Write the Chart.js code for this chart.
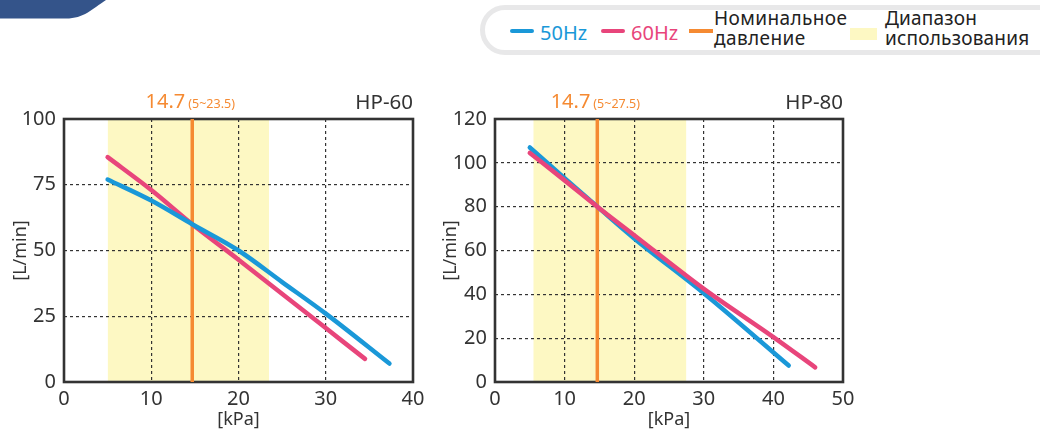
<!DOCTYPE html>
<html>
<head>
<meta charset="utf-8">
<script src="https://cdn.jsdelivr.net/npm/chart.js@4/dist/chart.umd.min.js"></script>
<style>
  html, body { margin:0; padding:0; background:#fff; }
  body { width:1040px; height:432px; position:relative; overflow:hidden; font-family:"Noto Sans", sans-serif; }
  canvas { position:absolute; top:0; }
  #c1 { left:0; }
  #c2 { left:430px; }
  .deco { position:absolute; left:0; top:0; }
  .pill { position:absolute; left:480px; top:5px; width:620px; height:50px; box-sizing:border-box; border:5px solid #e8e8e9; border-radius:25px; background:#fff; }
  .lg { position:absolute; white-space:nowrap; }
  .sw { position:absolute; height:4px; border-radius:2px; }
</style>
</head>
<body>
<svg class="deco" width="120" height="22" viewBox="0 0 120 22">
  <path d="M0 0 L106 0 C92 9 84 18.5 66 18.5 L0 18.5 Z" fill="#34548a"/>
</svg>
<div class="pill"></div>
<div class="sw" style="left:510px;top:29px;width:24px;background:#1a98d8"></div>
<div class="lg" style="left:540px;top:19px;font-size:20px;color:#1a98d8">50Hz</div>
<div class="sw" style="left:601px;top:29px;width:24px;background:#e8457b"></div>
<div class="lg" style="left:631px;top:19px;font-size:20px;color:#e8457b">60Hz</div>
<div class="sw" style="left:689px;top:29px;width:24px;border-radius:0;background:#f58a32"></div>
<div class="lg" style="left:714px;top:9px;font-size:19px;letter-spacing:0.4px;line-height:19.5px;color:#222">Номинальное<br>давление</div>
<div class="sw" style="left:850px;top:28px;width:27px;height:12px;border-radius:0;background:#fdf8c3"></div>
<div class="lg" style="left:885px;top:9px;font-size:19px;letter-spacing:0.2px;line-height:19.5px;color:#222">Диапазон<br>использования</div>

<canvas id="c1" width="430" height="432"></canvas>
<canvas id="c2" width="430" height="432"></canvas>
<script>
// ---- data ----
const hp60Press50 = [5, 10, 14.7, 20, 25, 30, 37.3];
const hp60Flow50  = [77, 69, 60, 50, 38, 26, 7];
const hp60Press60 = [5, 10, 14.7, 20, 30, 34.5];
const hp60Flow60  = [85.5, 73, 60, 46.5, 20.5, 8.8];
const hp60Rated = 14.7;
const hp60Range = [5, 23.5];
const hp60RangeLabel = "(5~23.5)";

const hp80Press50 = [5, 10, 14.7, 20, 30, 42.2];
const hp80Flow50  = [107, 93, 80, 65.5, 40.5, 7.5];
const hp80Press60 = [5, 10, 14.7, 20, 30, 40, 46];
const hp80Flow60  = [104.5, 92, 80, 67, 42.5, 20.5, 6.7];
const hp80Rated = 14.7;
const hp80Range = [5.5, 27.5];
const hp80RangeLabel = "(5~27.5)";

const BLUE = '#1a98d8', PINK = '#e8457b', ORANGE = '#f58a32', YELLOW = '#fdf8c3', INK = '#333';
const FONT = '"Noto Sans", sans-serif';

function pts(xs, ys) { return xs.map((x, i) => ({x, y: ys[i]})); }

const overlay = {
  id: 'overlay',
  beforeDatasetsDraw(chart) {
    const {ctx, chartArea: a} = chart;
    ctx.save();
    ctx.strokeStyle = INK; ctx.lineWidth = 2.6;
    ctx.strokeRect(a.left, a.top, a.right - a.left, a.bottom - a.top);
    ctx.restore();
  },
  afterDraw(chart) {
    const o = chart.options.plugins.overlay;
    const {ctx, chartArea: a} = chart;
    const xs = chart.scales.x;
    const px = xs.getPixelForValue(o.rated);
    ctx.save();
    ctx.textBaseline = 'alphabetic';
    const big = String(o.rated);
    ctx.font = '20px ' + FONT; const w1 = ctx.measureText(big).width;
    ctx.font = '12.5px ' + FONT; const w2 = ctx.measureText(o.rangeLabel).width;
    const gap = 3;
    const start = px - (w1 + gap + w2) / 2 - 2;
    ctx.fillStyle = ORANGE;
    ctx.font = '20px ' + FONT; ctx.textAlign = 'left';
    ctx.fillText(big, start, a.top - 11);
    ctx.font = '12.5px ' + FONT;
    ctx.fillText(o.rangeLabel, start + w1 + gap, a.top - 11);
    ctx.fillStyle = INK;
    ctx.font = '20.5px ' + FONT; ctx.textAlign = 'right';
    ctx.fillText(o.name, a.right, a.top - 10);
    ctx.restore();
  }
};

function makeChart(id, cfg) {
  const datasets = [
    { label: 'range', data: [{x: cfg.range[0], y: cfg.ymax}, {x: cfg.range[1], y: cfg.ymax}],
      fill: 'origin', backgroundColor: YELLOW, borderWidth: 0, pointRadius: 0, order: 10 },
    { label: 'rated', data: [{x: cfg.rated, y: 0}, {x: cfg.rated, y: cfg.ymax}],
      borderColor: ORANGE, borderWidth: 3.5, pointRadius: 0, fill: false, order: 5 },
    { label: '50Hz', data: pts(cfg.p50, cfg.f50), borderColor: BLUE, borderWidth: 4.5,
      pointRadius: 0, fill: false, cubicInterpolationMode: 'monotone', borderCapStyle: 'round', order: cfg.blueTop ? 1 : 2 },
    { label: '60Hz', data: pts(cfg.p60, cfg.f60), borderColor: PINK, borderWidth: 4.5,
      pointRadius: 0, fill: false, cubicInterpolationMode: 'monotone', borderCapStyle: 'round', order: cfg.blueTop ? 2 : 1 }
  ];
  return new Chart(document.getElementById(id), {
    type: 'line',
    data: { datasets },
    plugins: [overlay],
    options: {
      responsive: false, animation: false, devicePixelRatio: 1,
      layout: { padding: { top: 119, right: 17, left: 0, bottom: 0 } },
      plugins: {
        legend: { display: false }, tooltip: { enabled: false },
        filler: { drawTime: 'beforeDraw' },
        overlay: { rated: cfg.rated, rangeLabel: cfg.rangeLabel, name: cfg.name }
      },
      scales: {
        x: {
          type: 'linear', min: 0, max: cfg.xmax,
          ticks: { stepSize: 10, color: INK, padding: 5, font: { family: FONT, size: 20 } },
          grid: { drawTicks: false, color: c => (c.tick.value === 0 || c.tick.value === cfg.xmax) ? 'rgba(0,0,0,0)' : '#333', lineWidth: 1.2 },
          border: { display: false, dash: [3, 3] },
          title: { display: true, text: '[kPa]', color: INK, font: { family: FONT, size: 18 }, padding: { top: 0, bottom: 1 } },
          afterFit: s => { s.height = 50; }
        },
        y: {
          type: 'linear', min: 0, max: cfg.ymax,
          ticks: { stepSize: cfg.ystep, color: INK, padding: 8, font: { family: FONT, size: 20 } },
          grid: { drawTicks: false, color: c => (c.tick.value === 0 || c.tick.value === cfg.ymax) ? 'rgba(0,0,0,0)' : '#333', lineWidth: 1.2 },
          border: { display: false, dash: [3, 3] },
          title: { display: true, text: '[L/min]', color: INK, font: { family: FONT, size: 18 }, padding: { top: 10, bottom: 0 } },
          afterFit: s => { s.width = cfg.yw; }
        }
      }
    }
  });
}

makeChart('c1', { p50: hp60Press50, f50: hp60Flow50, p60: hp60Press60, f60: hp60Flow60,
  rated: hp60Rated, range: hp60Range, rangeLabel: hp60RangeLabel, name: 'HP-60',
  xmax: 40, ymax: 100, ystep: 25, yw: 64, blueTop: true });
makeChart('c2', { p50: hp80Press50, f50: hp80Flow50, p60: hp80Press60, f60: hp80Flow60,
  rated: hp80Rated, range: hp80Range, rangeLabel: hp80RangeLabel, name: 'HP-80',
  xmax: 50, ymax: 120, ystep: 20, yw: 65, blueTop: false });
</script>
</body>
</html>
